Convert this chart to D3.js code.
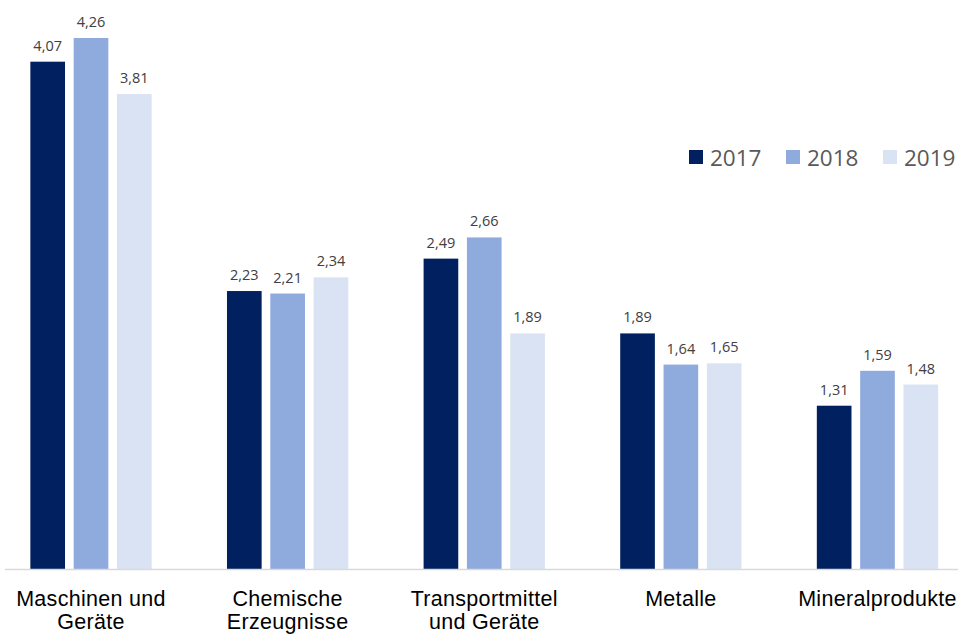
<!DOCTYPE html>
<html>
<head>
<meta charset="utf-8">
<script src="https://cdn.jsdelivr.net/npm/d3@7"></script>
<style>
  body { margin: 0; background: #fff; }
</style>
</head>
<body>
<script>
var categories = [["Maschinen und", "Geräte"], ["Chemische", "Erzeugnisse"], ["Transportmittel", "und Geräte"], ["Metalle"], ["Mineralprodukte"]];
var years = ["2017", "2018", "2019"];
var v2017 = [4.07, 2.23, 2.49, 1.89, 1.31];
var v2018 = [4.26, 2.21, 2.66, 1.64, 1.59];
var v2019 = [3.81, 2.34, 1.89, 1.65, 1.48];
var colors = ["#002060", "#8faadc", "#dae3f3"];

var series = [v2017, v2018, v2019];
var width = 958, height = 634;
var baseY = 569;

var svg = d3.select("body").append("svg")
    .attr("width", width)
    .attr("height", height);

var keys = categories.map(function(c) { return c.join(" "); });

var x0 = d3.scaleBand()
    .domain(keys)
    .range([-7, 975.5])
    .paddingInner(0.383)
    .paddingOuter(0.19);

var x1 = d3.scaleBand()
    .domain(years)
    .range([0, x0.bandwidth()])
    .paddingInner(0.2);

var y = d3.scaleLinear()
    .domain([0, 4.26])
    .range([baseY, 38]);

var fmt = function(v) { return d3.format(".2f")(v).replace(".", ","); };

// Balken
var groups = svg.selectAll(".grp")
    .data(keys)
    .enter().append("g")
    .attr("transform", function(d) { return "translate(" + x0(d) + ",0)"; });

groups.each(function(k, i) {
    var g = d3.select(this);
    years.forEach(function(yr, j) {
        var v = series[j][i];
        g.append("rect")
            .attr("x", x1(yr))
            .attr("y", y(v))
            .attr("width", x1.bandwidth())
            .attr("height", baseY - y(v))
            .attr("fill", colors[j]);
        g.append("text")
            .attr("x", x1(yr) + x1.bandwidth() / 2)
            .attr("y", y(v) - 11)
            .attr("text-anchor", "middle")
            .style("font-family", "Open Sans, sans-serif")
            .style("font-size", "14.5px")
            .style("fill", "#404040")
            .text(fmt(v));
    });
});

// X-as
svg.append("line")
    .attr("x1", 5).attr("x2", 958)
    .attr("y1", baseY + 0.5).attr("y2", baseY + 0.5)
    .attr("stroke", "#d9d9d9")
    .attr("stroke-width", 1.5);

// Categorie labels
categories.forEach(function(c, i) {
    var cx = x0(keys[i]) + x0.bandwidth() / 2;
    var t = svg.append("text")
        .attr("x", cx)
        .attr("y", 606)
        .attr("text-anchor", "middle")
        .style("font-family", "Liberation Sans, Arial, sans-serif")
        .style("font-size", "21.5px")
        .style("letter-spacing", "0.3px")
        .style("fill", "#000");
    c.forEach(function(line, n) {
        t.append("tspan")
            .attr("x", cx)
            .attr("dy", n === 0 ? 0 : 23)
            .text(line);
    });
});

// Legenda
var legX = [689, 786, 883];
years.forEach(function(yr, j) {
    svg.append("rect")
        .attr("x", legX[j]).attr("y", 150)
        .attr("width", 14).attr("height", 14)
        .attr("fill", colors[j]);
    svg.append("text")
        .attr("x", legX[j] + 21).attr("y", 166)
        .style("font-family", "Open Sans, sans-serif")
        .style("font-size", "22.5px")
        .style("fill", "#595959")
        .text(yr);
});
</script>
</body>
</html>
